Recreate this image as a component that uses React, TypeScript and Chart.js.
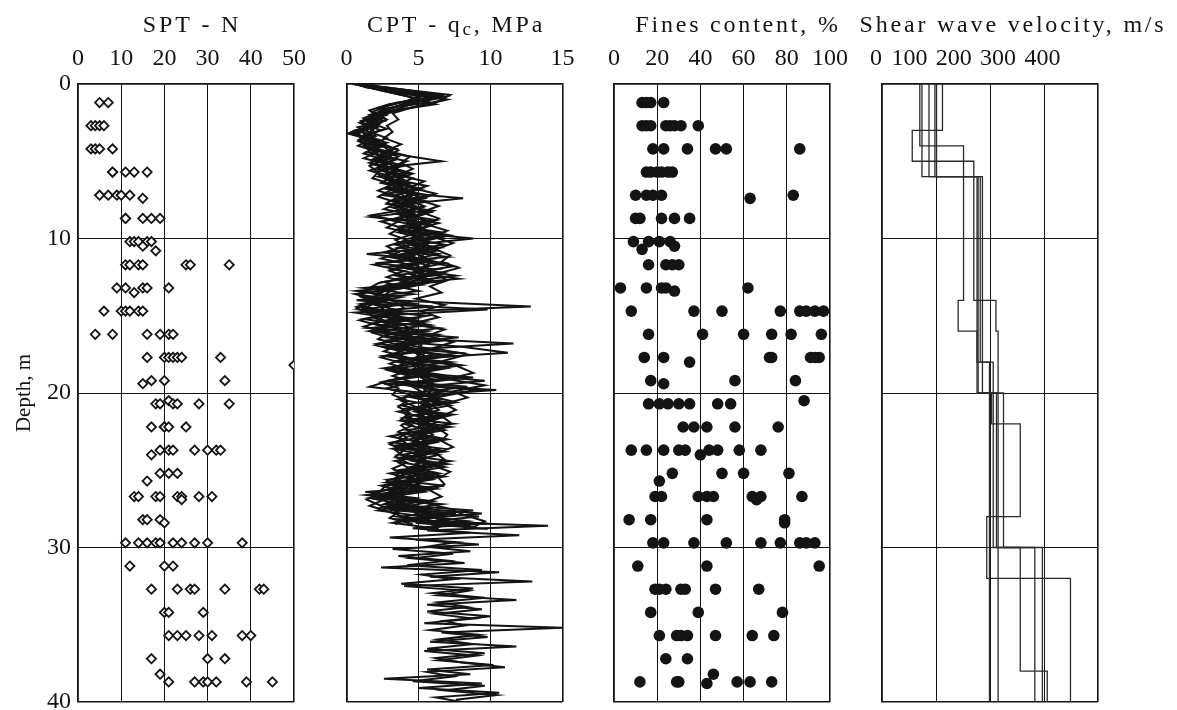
import { useEffect, useRef } from "react";
import { Chart, registerables } from "chart.js";

Chart.register(...registerables);

const SERIF = '"Liberation Serif", "Times New Roman", Times, serif';
const INK = "#141414";

// ---- depth axis (m), shared by the four logs ----
const DEPTH_MIN = 0;
const DEPTH_MAX = 40;
const DEPTH_STEP = 10;

// ---- SPT blow counts, grouped by test depth ----
const SPT_DEPTH = [1.2, 2.7, 4.2, 5.7, 7.2, 7.4, 8.7, 10.2, 10.5, 10.8, 11.7, 13.2, 13.5, 14.7, 16.2, 17.7, 18.2, 19.2, 19.4, 20.5, 20.7, 22.2, 23.7, 24.0, 25.2, 25.7, 26.7, 26.9, 28.2, 28.4, 29.7, 31.2, 32.7, 34.2, 35.7, 37.2, 38.2, 38.7];
const SPT_N = [
  [5, 7], [3, 4, 5, 6], [3, 4, 5, 8], [8, 8, 11, 13, 16], [5, 7, 9, 10, 12], [15],
  [11, 11, 15, 17, 19], [12, 13, 14, 16, 17], [15], [18], [11, 12, 14, 15, 25, 26, 35],
  [9, 11, 15, 16, 21], [13], [6, 10, 11, 12, 14, 15], [4, 8, 16, 19, 21, 22],
  [16, 20, 21, 22, 23, 24, 33], [50], [17, 20, 34], [15], [21], [18, 19, 22, 23, 28, 35],
  [17, 20, 20, 21, 25], [19, 21, 22, 27, 30, 32, 33], [17], [19, 21, 23], [16],
  [13, 14, 18, 19, 23, 24, 28, 31], [24], [15, 16, 19], [20],
  [11, 14, 16, 18, 19, 22, 24, 27, 30, 38], [12, 20, 22], [17, 23, 26, 27, 34, 42, 43],
  [20, 21, 29], [21, 23, 25, 28, 31, 38, 40], [17, 30, 34], [19], [21, 27, 29, 30, 32, 39, 45],
];

// ---- fines content (%), grouped by sample depth ----
const FC_DEPTH = [1.2, 2.7, 4.2, 5.7, 7.2, 7.4, 8.7, 10.2, 10.5, 10.7, 11.7, 13.2, 13.4, 14.7, 16.2, 17.7, 18.0, 19.2, 19.4, 20.5, 20.7, 22.2, 23.7, 24.0, 25.2, 25.7, 26.7, 26.9, 28.2, 28.4, 29.7, 31.2, 32.7, 34.2, 35.7, 37.2, 38.2, 38.7, 38.8];
const FC_VALUES = [
  [13, 15, 17, 23], [13, 15, 17, 24, 26, 28, 31, 39], [18, 23, 34, 47, 52, 86],
  [15, 17, 20, 22, 25, 27], [10, 15, 18, 22, 83], [63], [10, 12, 22, 28, 35],
  [9, 16, 21, 26], [28], [13], [16, 24, 27, 30], [3, 15, 22, 24, 62], [28],
  [8, 37, 50, 77, 86, 89, 93, 97], [16, 41, 60, 73, 82, 96], [14, 23, 72, 73, 91, 93, 95],
  [35], [17, 56, 84], [23], [88], [16, 21, 25, 30, 35, 48, 54], [32, 37, 43, 56, 76],
  [8, 15, 23, 30, 33, 44, 48, 58, 68], [40], [27, 50, 60, 81], [21],
  [19, 22, 39, 43, 46, 64, 68, 87], [66], [7, 17, 43, 79], [79],
  [18, 23, 37, 52, 68, 77, 86, 89, 93], [11, 43, 95], [19, 21, 24, 31, 33, 47, 67],
  [17, 39, 78], [21, 29, 31, 34, 47, 64, 74], [24, 34], [46], [12, 29, 30, 57, 63, 73], [43],
];

// ---- CPT cone resistance qc (MPa) ----
const CPT_DEPTH_A = [0, 0.4, 0.8, 1.2, 1.6, 2, 2.4, 2.8, 3.2, 3.6, 4, 4.4, 4.8, 5.2, 5.6, 6, 6.4, 6.8, 7.2, 7.6, 8, 8.4, 8.8, 9.2, 9.6, 10, 10.4, 10.8, 11.2, 11.6, 12, 12.4, 12.8, 13.2, 13.6, 14, 14.4, 14.8, 15.2, 15.6, 16, 16.4, 16.8, 17.2, 17.6, 18, 18.4, 18.8, 19.2, 19.6, 20, 20.4, 20.8, 21.2, 21.6, 22, 22.4, 22.8, 23.2, 23.6, 24, 24.4, 24.8, 25.2, 25.6, 26, 26.4, 26.8, 27.2, 27.6, 28, 28.4, 28.8];
const CPT_DEPTH_B = [0.2, 0.6, 1, 1.4, 1.8, 2.2, 2.6, 3, 3.4, 3.8, 4.2, 4.6, 5, 5.4, 5.8, 6.2, 6.6, 7, 7.4, 7.8, 8.2, 8.6, 9, 9.4, 9.8, 10.2, 10.6, 11, 11.4, 11.8, 12.2, 12.6, 13, 13.4, 13.8, 14.2, 14.6, 15, 15.4, 15.8, 16.2, 16.6, 17, 17.4, 17.8, 18.2, 18.6, 19, 19.4, 19.8, 20.2, 20.6, 21, 21.4, 21.8, 22.2, 22.6, 23, 23.4, 23.8, 24.2, 24.6, 25, 25.4, 25.8, 26.2, 26.6, 27, 27.4, 27.8, 28.2, 28.6];
const CPT_DEPTH_E = [0.1, 0.5, 0.9, 1.3, 1.7, 2.1, 2.5, 2.9, 3.3, 3.7, 4.1, 4.5, 4.9, 5.3, 5.7, 6.1, 6.5, 6.9, 7.3, 7.7, 8.1, 8.5, 8.9, 9.3, 9.7, 10.1, 10.5, 10.9, 11.3, 11.7, 12.1, 12.5, 12.9, 13.3, 13.7, 14.1, 14.5, 14.9, 15.3, 15.7, 16.1, 16.5, 16.9, 17.3, 17.7, 18.1, 18.5, 18.9, 19.3, 19.7, 20.1, 20.5, 20.9, 21.3, 21.7, 22.1, 22.5, 22.9, 23.3, 23.7, 24.1, 24.5, 24.9, 25.3, 25.7, 26.1, 26.5, 26.9, 27.3, 27.7, 28.1, 28.5];
const CPT_DEPTH_F = [0.3, 0.7, 1.1, 1.5, 1.9, 2.3, 2.7, 3.1, 3.5, 3.9, 4.3, 4.7, 5.1, 5.5, 5.9, 6.3, 6.7, 7.1, 7.5, 7.9, 8.3, 8.7, 9.1, 9.5, 9.9, 10.3, 10.7, 11.1, 11.5, 11.9, 12.3, 12.7, 13.1, 13.5, 13.9, 14.3, 14.7, 15.1, 15.5, 15.9, 16.3, 16.7, 17.1, 17.5, 17.9, 18.3, 18.7, 19.1, 19.5, 19.9, 20.3, 20.7, 21.1, 21.5, 21.9, 22.3, 22.7, 23.1, 23.5, 23.9, 24.3, 24.7, 25.1, 25.5, 25.9, 26.3, 26.7, 27.1, 27.5, 27.9, 28.3, 28.7];
const CPT_DEPTH_C = [28, 28.3, 28.6, 28.9, 29.2, 29.5, 29.8, 30.1, 30.4, 30.7, 31, 31.3, 31.6, 31.9, 32.2, 32.5, 32.8, 33.1, 33.4, 33.7, 34, 34.3, 34.6, 34.9, 35.2, 35.5, 35.8, 36.1, 36.4, 36.7, 37, 37.3, 37.6, 37.9, 38.2, 38.5, 38.8, 39.1, 39.4, 39.7, 40];
const CPT_DEPTH_D = [28.15, 28.45, 28.75, 29.05, 29.35, 29.65, 29.95, 30.25, 30.55, 30.85, 31.15, 31.45, 31.75, 32.05, 32.35, 32.65, 32.95, 33.25, 33.55, 33.85, 34.15, 34.45, 34.75, 35.05, 35.35, 35.65, 35.95, 36.25, 36.55, 36.85, 37.15, 37.45, 37.75, 38.05, 38.35, 38.65, 38.95, 39.25, 39.55, 39.85];

const CPT_QC_1 = [1.0, 4.2, 6.8, 3.5, 2.2, 2.8, 1.4, 2.1, 0.3, 2.2, 1.2, 3.0, 2.0, 3.6, 2.4, 3.9, 3.0, 5.2, 3.4, 4.8, 3.6, 5.5, 4.0, 5.8, 4.2, 8.8, 4.6, 6.2, 3.8, 6.8, 4.5, 7.6, 4.2, 2.0, 0.8, 3.2, 12.8, 1.5, 4.8, 2.4, 5.6, 3.0, 11.6, 4.2, 7.4, 3.8, 6.9, 4.5, 9.6, 5.2, 7.8, 5.6, 7.2, 4.8, 6.6, 5.2, 6.8, 4.4, 6.2, 4.0, 6.4, 4.6, 6.8, 3.8, 5.9, 3.2, 5.4, 2.2, 6.6, 3.4, 9.2, 4.8, 9.8];
const CPT_QC_2 = [2.6, 5.8, 4.6, 2.9, 1.8, 2.6, 1.2, 2.4, 1.0, 2.8, 1.6, 3.8, 6.6, 2.6, 4.2, 2.8, 4.6, 3.2, 8.1, 3.8, 5.4, 1.7, 5.6, 3.6, 6.8, 4.0, 6.4, 1.4, 5.8, 3.2, 6.6, 3.6, 5.2, 0.7, 3.8, 1.2, 9.8, 2.2, 5.4, 1.6, 6.2, 2.8, 8.0, 11.2, 4.4, 7.6, 3.2, 8.8, 2.6, 10.4, 4.2, 7.0, 4.2, 7.4, 4.6, 7.2, 3.8, 6.6, 3.4, 6.0, 4.2, 7.0, 3.6, 6.2, 2.8, 5.6, 1.4, 5.2, 2.6, 7.6, 3.6, 8.6];
const CPT_QC_3 = [1.6, 3.2, 5.2, 4.4, 3.0, 1.6, 2.6, 0.8, 1.8, 0.9, 2.6, 1.4, 3.2, 1.8, 3.8, 2.2, 4.4, 2.8, 5.8, 3.2, 5.2, 3.4, 6.2, 3.8, 6.6, 4.4, 6.8, 4.0, 7.0, 2.0, 6.2, 3.4, 6.4, 1.2, 4.6, 0.7, 6.0, 0.6, 3.4, 5.8, 2.0, 7.8, 3.6, 6.2, 2.8, 7.2, 3.4, 6.4, 2.8, 8.4, 4.6, 6.4, 3.8, 5.8, 4.0, 7.4, 4.2, 5.6, 3.2, 6.6, 3.8, 7.2, 4.4, 6.4, 3.0, 6.8, 1.3, 4.8, 2.8, 8.8, 3.6, 7.0, 5.2];
const CPT_QC_4 = [1.2, 4.8, 6.0, 3.6, 2.4, 1.2, 2.2, 0.6, 2.0, 1.2, 3.4, 2.2, 4.2, 3.0, 4.6, 3.4, 5.6, 4.2, 5.4, 3.0, 6.0, 4.4, 6.4, 4.8, 7.2, 5.2, 3.6, 6.4, 4.4, 7.4, 4.8, 7.8, 3.0, 5.0, 1.4, 4.6, 1.0, 5.6, 2.8, 6.4, 3.2, 6.8, 2.4, 7.8, 4.8, 8.0, 5.0, 7.2, 4.0, 9.2, 5.8, 7.6, 5.0, 6.8, 3.8, 6.2, 4.8, 7.0, 4.4, 6.8, 3.6, 6.2, 4.8, 6.8, 3.6, 6.2, 2.4, 6.0, 3.8, 9.4, 4.4, 7.4];
const CPT_QC_5 = [0.6, 2.4, 4.2, 5.6, 2.6, 2.2, 1.0, 1.6, 0.1, 1.6, 0.8, 2.2, 1.2, 2.8, 1.6, 3.2, 2.4, 4.2, 2.6, 5.6, 3.2, 4.6, 3.0, 5.0, 3.6, 5.4, 3.4, 5.6, 3.0, 5.2, 3.2, 5.8, 2.6, 4.0, 0.6, 2.4, 0.8, 3.6, 1.2, 3.8, 1.6, 4.6, 2.2, 5.4, 2.6, 5.6, 2.6, 5.4, 3.0, 1.6, 5.2, 3.6, 6.0, 3.6, 5.4, 4.0, 5.6, 3.0, 5.2, 3.2, 5.4, 3.4, 5.6, 3.0, 4.8, 2.4, 4.2, 1.6, 4.0, 2.2, 5.4, 3.2, 6.4];
const CPT_QC_8 = [1.8, 3.8, 5.9, 4.0, 2.8, 1.8, 2.4, 1.5, 0.6, 2.4, 1.8, 2.6, 3.4, 2.2, 3.0, 4.6, 3.6, 4.0, 5.0, 4.4, 4.6, 3.8, 4.8, 5.2, 4.6, 5.6, 5.0, 4.6, 5.6, 4.8, 5.4, 5.0, 5.6, 3.2, 2.6, 3.4, 4.0, 2.6, 3.2, 4.2, 4.8, 4.0, 5.2, 4.8, 5.6, 5.0, 4.6, 5.8, 5.4, 6.0, 5.6, 6.2, 5.8, 6.0, 5.4, 5.8, 5.2, 5.6, 5.0, 5.4, 5.2, 5.6, 5.0, 5.2, 4.6, 4.2, 3.6, 3.2, 4.4, 5.2, 6.4, 7.8];
const CPT_QC_9 = [2.0, 6.4, 5.0, 3.2, 2.0, 2.8, 1.8, 0.4, 1.4, 2.6, 3.6, 2.8, 1.6, 3.4, 2.6, 3.0, 4.8, 3.8, 4.2, 5.4, 4.0, 5.0, 4.4, 5.6, 5.0, 4.6, 5.8, 4.2, 6.0, 5.2, 4.4, 6.0, 4.6, 2.2, 2.8, 2.0, 3.8, 1.8, 3.0, 2.4, 3.8, 4.6, 3.6, 5.2, 4.4, 5.4, 4.2, 6.0, 4.8, 6.4, 5.0, 5.8, 6.4, 5.0, 6.2, 5.4, 6.0, 4.8, 5.8, 4.6, 5.4, 4.8, 5.8, 4.2, 5.0, 3.0, 4.0, 3.4, 5.8, 4.6, 8.4, 5.6];
const CPT_QC_10 = [0.9, 2.8, 4.8, 6.2, 3.4, 2.4, 1.6, 2.8, 1.2, 0.8, 2.0, 1.2, 2.6, 1.6, 2.2, 1.8, 3.2, 2.2, 3.6, 2.8, 4.2, 1.7, 3.6, 2.8, 4.6, 3.4, 4.2, 2.6, 4.8, 1.9, 4.0, 2.8, 4.4, 1.6, 1.0, 2.2, 1.2, 2.8, 0.9, 2.6, 1.8, 3.4, 2.0, 3.8, 2.4, 4.0, 2.8, 4.4, 2.4, 3.6, 3.2, 4.2, 3.6, 4.4, 3.8, 4.6, 3.6, 4.2, 3.0, 4.0, 3.4, 4.2, 3.2, 4.0, 2.8, 3.4, 1.8, 2.6, 1.6, 3.0, 4.2, 3.4];
const CPT_QC_11 = [3.4, 7.2, 6.4, 4.6, 3.2, 3.6, 2.8, 3.2, 2.6, 3.8, 2.8, 4.4, 3.8, 4.6, 3.6, 5.4, 4.4, 6.2, 5.0, 6.4, 5.2, 6.4, 5.6, 7.0, 6.0, 7.4, 6.2, 7.2, 6.6, 7.8, 6.2, 7.0, 5.8, 6.6, 4.8, 6.8, 5.2, 6.4, 4.6, 6.8, 5.6, 7.4, 6.0, 8.4, 6.8, 7.8, 8.8, 7.0, 9.6, 7.4, 8.4, 6.8, 7.6, 6.6, 7.2, 6.4, 7.0, 6.6, 7.4, 6.2, 6.8, 6.0, 7.2, 6.4, 6.8, 5.8, 6.6, 5.4, 7.2, 8.2, 9.6, 8.8];
const CPT_QC_12 = [0.4, 3.0, 5.6, 4.8, 3.6, 2.0, 2.2, 1.2, 1.6, 1.4, 2.4, 1.8, 2.8, 2.6, 3.4, 2.8, 3.8, 3.6, 4.6, 4.0, 5.0, 4.2, 5.4, 4.4, 5.2, 4.8, 5.6, 5.0, 4.6, 5.8, 5.2, 4.6, 5.8, 2.8, 2.2, 1.6, 2.8, 3.4, 2.2, 3.0, 3.6, 4.4, 3.8, 4.6, 5.0, 4.4, 5.2, 4.8, 5.6, 4.6, 5.4, 6.0, 5.2, 5.6, 6.2, 5.0, 5.8, 5.2, 4.6, 5.2, 4.8, 5.4, 4.6, 5.0, 4.4, 3.8, 3.0, 3.6, 2.6, 4.8, 5.8, 7.2, 6.0];
const CPT_QC_13 = [1.4, 3.6, 7.0, 5.2, 3.0, 1.8, 2.0, 1.0, 1.8, 2.2, 2.8, 3.2, 2.4, 3.6, 3.0, 4.0, 3.4, 4.6, 3.8, 4.6, 4.4, 5.0, 4.2, 5.4, 4.6, 5.6, 4.8, 5.4, 4.8, 5.6, 5.8, 5.0, 4.2, 2.6, 2.0, 3.0, 2.4, 3.6, 3.0, 3.6, 4.2, 4.8, 4.2, 5.4, 5.2, 4.6, 5.8, 5.2, 6.0, 5.4, 6.2, 5.4, 5.8, 5.2, 5.8, 5.0, 5.6, 4.8, 5.4, 5.0, 5.6, 4.8, 5.4, 4.6, 4.2, 3.6, 2.8, 3.8, 4.6, 6.0, 6.8, 6.2];
const CPT_QC_14 = [1.2, 4.6, 6.6, 3.0, 1.6, 2.2, 0.9, 1.8, 2.0, 1.0, 1.4, 3.4, 1.8, 4.0, 2.0, 2.6, 4.2, 3.0, 2.2, 3.6, 2.6, 4.8, 2.4, 3.8, 3.0, 4.2, 2.8, 3.6, 2.4, 4.4, 3.0, 4.2, 2.2, 1.4, 0.9, 1.8, 0.7, 1.6, 2.6, 1.2, 3.0, 2.2, 3.6, 2.6, 4.2, 3.0, 4.4, 3.2, 4.6, 2.8, 4.4, 3.8, 4.8, 4.0, 4.6, 3.8, 4.4, 3.6, 4.2, 3.4, 4.0, 3.6, 4.4, 3.4, 3.8, 2.6, 2.2, 1.4, 2.4, 3.6, 3.0, 4.6];
const CPT_QC_15 = [2.6, 5.2, 4.2, 2.4, 2.6, 1.4, 2.2, 1.6, 2.8, 1.8, 2.2, 3.6, 2.8, 2.2, 4.0, 3.6, 2.8, 5.0, 3.4, 4.2, 5.8, 3.6, 5.2, 4.0, 6.0, 4.2, 5.2, 3.4, 5.0, 4.0, 6.6, 4.0, 3.6, 1.6, 3.2, 1.0, 2.4, 3.8, 1.8, 4.4, 2.6, 5.6, 3.0, 6.2, 3.6, 6.6, 3.8, 7.4, 4.2, 6.8, 4.6, 6.6, 4.8, 7.0, 5.2, 6.6, 4.6, 6.2, 4.2, 5.8, 4.4, 6.4, 4.0, 6.0, 3.8, 5.2, 2.4, 4.6, 3.0, 6.8, 5.0, 9.0];
const CPT_QC_6 = [6.0, 4.2, 14.0, 5.6, 12.0, 4.8, 9.2, 3.2, 7.4, 4.6, 8.2, 2.4, 10.6, 5.8, 12.9, 4.0, 8.4, 6.4, 11.8, 5.6, 9.4, 6.2, 8.8, 5.4, 15.0, 6.6, 9.8, 5.8, 11.8, 5.4, 9.0, 6.4, 10.2, 5.6, 8.6, 2.6, 9.4, 5.0, 10.6, 6.2, 8.0];
const CPT_QC_7 = [3.2, 9.8, 4.6, 8.6, 3.0, 7.6, 5.6, 8.6, 3.6, 7.0, 4.2, 9.4, 5.2, 7.4, 3.8, 8.8, 6.0, 9.6, 6.4, 8.4, 5.6, 10.0, 6.8, 8.2, 5.8, 9.2, 6.4, 8.8, 5.6, 9.6, 6.2, 8.0, 11.0, 5.6, 7.4, 4.6, 9.6, 6.8, 10.4, 7.6];

const CPT_TRACES: [number[], number[]][] = [
  [CPT_DEPTH_A, CPT_QC_1],
  [CPT_DEPTH_B, CPT_QC_2],
  [CPT_DEPTH_A, CPT_QC_3],
  [CPT_DEPTH_B, CPT_QC_4],
  [CPT_DEPTH_A, CPT_QC_5],
  [CPT_DEPTH_E, CPT_QC_8],
  [CPT_DEPTH_F, CPT_QC_9],
  [CPT_DEPTH_E, CPT_QC_10],
  [CPT_DEPTH_F, CPT_QC_11],
  [CPT_DEPTH_A, CPT_QC_12],
  [CPT_DEPTH_B, CPT_QC_13],
  [CPT_DEPTH_E, CPT_QC_14],
  [CPT_DEPTH_F, CPT_QC_15],
  [CPT_DEPTH_C, CPT_QC_6],
  [CPT_DEPTH_D, CPT_QC_7],
];

// ---- shear wave velocity profiles: layer top depth (m) and Vs (m/s) ----
const VS_TOPS_1 = [0, 3, 5, 14, 16];
const VS_1 = [112, 56, 170, 211, 215];
const VS_TOPS_2 = [0, 4, 14, 16, 18, 30];
const VS_2 = [70, 151, 141, 176, 206, 297];
const VS_TOPS_3 = [0, 6, 20, 22, 28, 32];
const VS_3 = [74, 176, 203, 256, 194, 349];
const VS_TOPS_4 = [0, 6, 20, 30];
const VS_4 = [87, 178, 212, 283];
const VS_TOPS_5 = [0, 6, 18];
const VS_5 = [98, 182, 199];
const VS_TOPS_6 = [0, 6, 20, 30, 38];
const VS_6 = [101, 186, 225, 256, 306];

const VS_PROFILES: [number[], number[]][] = [
  [VS_TOPS_1, VS_1], [VS_TOPS_2, VS_2], [VS_TOPS_3, VS_3],
  [VS_TOPS_4, VS_4], [VS_TOPS_5, VS_5], [VS_TOPS_6, VS_6],
];

// ---- axis tick texts ----
const VS_TICK_TEXT = ["0", "100", "200", "300", "400"];

// ---- layout ----
const CANVAS_H = 710;
const PLOT_TOP = 84;
const PLOT_BOTTOM = 702;
const PLOT_W = 216;
// the velocity header numbers sit slightly left of their grid lines
const VS_TICK_ANCHORS = [-11, 51, 133, 215, 297];

type TitlePart = { text: string; size: number; drop: number };

const headerPlugin = {
  id: "panelHeader",
  afterDraw(chart: any, _args: any, opts: any) {
    const { ctx, chartArea } = chart;
    const parts: TitlePart[] = opts.parts || [];
    ctx.save();
    ctx.fillStyle = INK;
    ctx.textAlign = "left";
    ctx.textBaseline = "alphabetic";
    if ("letterSpacing" in ctx) (ctx as any).letterSpacing = `${opts.spacing}px`;
    const widths = parts.map((p) => {
      ctx.font = `${p.size}px ${SERIF}`;
      return ctx.measureText(p.text).width;
    });
    const total = widths.reduce((a, b) => a + b, 0);
    let x = (chartArea.left + chartArea.right) / 2 + opts.shift - total / 2;
    parts.forEach((p, i) => {
      ctx.font = `${p.size}px ${SERIF}`;
      ctx.fillText(p.text, x, opts.baseline + p.drop);
      x += widths[i];
    });
    ctx.restore();
  },
};

type PanelDef = {
  left: number;
  width: number;
  plotLeft: number;
  xMin: number;
  xMax: number;
  xStep: number;
  title: TitlePart[];
  titleShift: number;
  datasets: any[];
  depthLabels?: boolean;
  tickAnchors?: number[];
  tickTexts?: string[];
};

const frameWidth = (min: number, max: number) => (c: any) =>
  c.tick && (c.tick.value === min || c.tick.value === max) ? 1.6 : 1;

// keep label overhang from shrinking the plotting box
const noOverhang = (s: any) => {
  s.paddingLeft = 0;
  s.paddingRight = 0;
  s.paddingTop = 0;
  s.paddingBottom = 0;
};

function buildOptions(p: PanelDef) {
  const tickFont = { family: SERIF, size: 24 };
  const custom = !!p.tickAnchors;
  const scales: any = {
    x: {
      type: "linear",
      position: "top",
      weight: 0,
      min: p.xMin,
      max: p.xMax,
      ticks: {
        stepSize: p.xStep,
        display: !custom,
        font: tickFont,
        color: INK,
        padding: 11,
        maxRotation: 0,
        autoSkip: false,
      },
      grid: { color: INK, lineWidth: frameWidth(p.xMin, p.xMax), drawTicks: false },
      border: { color: INK, width: 1.6 },
      afterFit: (s: any) => {
        s.height = custom ? 0 : PLOT_TOP;
        noOverhang(s);
      },
    },
    y: {
      type: "linear",
      position: "left",
      reverse: true,
      min: DEPTH_MIN,
      max: DEPTH_MAX,
      ticks: {
        stepSize: DEPTH_STEP,
        display: !!p.depthLabels,
        font: tickFont,
        color: INK,
        padding: 7,
      },
      title: {
        display: !!p.depthLabels,
        text: "Depth, m",
        font: { family: SERIF, size: 21 },
        color: INK,
        padding: { top: 12, bottom: 0 },
      },
      grid: { color: INK, lineWidth: frameWidth(DEPTH_MIN, DEPTH_MAX), drawTicks: false },
      border: { color: INK, width: 1.6 },
      afterFit: (s: any) => {
        s.width = p.plotLeft;
        noOverhang(s);
      },
    },
  };
  if (custom) {
    scales.xText = {
      type: "linear",
      position: "top",
      weight: 1,
      min: p.xMin,
      max: p.xMax,
      grid: { display: false, drawTicks: false },
      border: { display: false },
      ticks: {
        font: tickFont,
        color: INK,
        padding: 11,
        maxRotation: 0,
        autoSkip: false,
        callback: (_v: any, i: number) => (p.tickTexts || [])[i],
      },
      afterBuildTicks: (s: any) => {
        s.ticks = (p.tickAnchors || []).map((value) => ({ value }));
      },
      afterFit: (s: any) => {
        s.height = PLOT_TOP;
        noOverhang(s);
      },
    };
  }
  return {
    responsive: false,
    animation: false,
    events: [],
    layout: {
      autoPadding: false,
      padding: {
        left: 0,
        top: 0,
        right: p.width - p.plotLeft - PLOT_W,
        bottom: CANVAS_H - PLOT_BOTTOM,
      },
    },
    plugins: {
      legend: { display: false },
      tooltip: { enabled: false },
      panelHeader: { parts: p.title, shift: p.titleShift, baseline: 32, spacing: 2.8 },
    },
    scales,
  };
}

const groupedPoints = (depths: number[], values: number[][]) =>
  depths.flatMap((d, i) => values[i].map((v) => ({ x: v, y: d })));

const PANELS: PanelDef[] = [
  {
    left: 0,
    width: 330,
    plotLeft: 78,
    xMin: 0,
    xMax: 50,
    xStep: 10,
    title: [{ text: "SPT - N", size: 24, drop: 0 }],
    titleShift: 6,
    depthLabels: true,
    datasets: [
      {
        data: groupedPoints(SPT_DEPTH, SPT_N),
        pointStyle: "rectRot",
        pointRadius: 4.6,
        pointBorderWidth: 1.8,
        borderWidth: 1.8,
        pointBorderColor: INK,
        borderColor: INK,
        pointBackgroundColor: "#ffffff",
        backgroundColor: "#ffffff",
      },
    ],
  },
  {
    left: 330,
    width: 270,
    plotLeft: 16.5,
    xMin: 0,
    xMax: 15,
    xStep: 5,
    title: [
      { text: "CPT - q", size: 24, drop: 0 },
      { text: "c", size: 19, drop: 3 },
      { text: ", MPa", size: 24, drop: 0 },
    ],
    titleShift: 1.5,
    datasets: CPT_TRACES.map(([depth, qc]) => ({
      data: depth.map((d, i) => ({ x: qc[i], y: d })),
      showLine: true,
      pointRadius: 0,
      borderColor: INK,
      borderWidth: 2,
      tension: 0,
    })),
  },
  {
    left: 600,
    width: 250,
    plotLeft: 14,
    xMin: 0,
    xMax: 100,
    xStep: 20,
    title: [{ text: "Fines content, %", size: 24, drop: 0 }],
    titleShift: 16,
    datasets: [
      {
        data: groupedPoints(FC_DEPTH, FC_VALUES),
        pointStyle: "circle",
        pointRadius: 5.8,
        pointBorderWidth: 0,
        borderWidth: 0,
        pointBackgroundColor: INK,
        backgroundColor: INK,
      },
    ],
  },
  {
    left: 850,
    width: 327,
    plotLeft: 32,
    xMin: 0,
    xMax: 400,
    xStep: 100,
    title: [{ text: "Shear wave velocity, m/s", size: 24, drop: 0 }],
    titleShift: 23,
    tickAnchors: VS_TICK_ANCHORS,
    tickTexts: VS_TICK_TEXT,
    datasets: VS_PROFILES.map(([tops, vs]) => ({
      data: tops
        .map((t, i) => ({ x: vs[i], y: t }))
        .concat([{ x: vs[vs.length - 1], y: DEPTH_MAX }]),
      showLine: true,
      stepped: "after",
      pointRadius: 0,
      borderColor: "#2b2b2b",
      borderWidth: 1.3,
    })),
  },
];

function LogPanel({ panel }: { panel: PanelDef }) {
  const ref = useRef<HTMLCanvasElement | null>(null);
  useEffect(() => {
    if (!ref.current) return;
    const chart = new Chart(ref.current, {
      type: "scatter",
      data: { datasets: panel.datasets },
      options: buildOptions(panel) as any,
      plugins: [headerPlugin as any],
    });
    return () => chart.destroy();
  }, [panel]);
  return (
    <canvas
      ref={ref}
      width={panel.width}
      height={CANVAS_H}
      style={{ position: "absolute", left: panel.left, top: 0, width: panel.width, height: CANVAS_H }}
    />
  );
}

export default function App() {
  return (
    <div
      style={{
        position: "absolute",
        left: 0,
        top: 0,
        width: 1177,
        height: CANVAS_H,
        background: "#ffffff",
        overflow: "hidden",
      }}
    >
      {PANELS.map((p, i) => (
        <LogPanel key={i} panel={p} />
      ))}
    </div>
  );
}
